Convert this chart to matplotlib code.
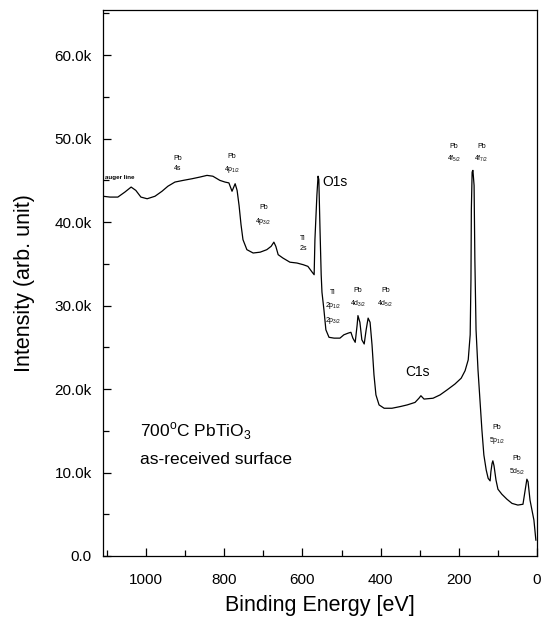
import numpy as np
import matplotlib
matplotlib.use("Agg")
import matplotlib.pyplot as plt
from matplotlib.ticker import MultipleLocator, FuncFormatter

plt.rcParams['font.family'] = ['Liberation Sans', 'DejaVu Sans']
plt.rcParams['mathtext.fontset'] = 'custom'
plt.rcParams['mathtext.rm'] = 'Liberation Sans'

# binding energy (eV) and intensity (counts)
energy = [1110, 1092, 1072, 1054, 1038, 1026, 1013, 997, 977, 959, 944, 926, 905, 882,
          862, 844, 829, 811, 798, 788, 780, 772, 767, 762, 757, 752, 742, 726, 708,
          691, 680, 673, 668, 662, 650, 632, 614, 598, 586, 575, 570, 568, 563, 560,
          558, 555, 552, 550, 545, 540, 532, 519, 504, 494, 483, 476, 471, 465, 460,
          458, 453, 448, 442, 437, 432, 427, 422, 417, 412, 404, 391, 371, 350, 332,
          312, 302, 297, 289, 266, 248, 230, 210, 194, 184, 176, 171, 169, 168, 166,
          164, 161, 159, 156, 151, 146, 141, 136, 130, 125, 120, 118, 115, 113, 110,
          105, 100, 90, 77, 64, 49, 36, 31, 26, 23, 18, 13, 8, 3]
intensity = [43.1, 43.0, 43.0, 43.6, 44.2, 43.8, 43.0, 42.8, 43.1, 43.7, 44.3, 44.8, 45.0, 45.2,
             45.4, 45.6, 45.5, 45.0, 44.8, 44.7, 43.7, 44.6, 43.8, 42.0, 39.7, 37.9, 36.7, 36.3, 36.4,
             36.7, 37.1, 37.6, 37.1, 36.1, 35.7, 35.2, 35.1, 34.9, 34.7, 34.0, 33.7, 37.9, 43.2, 45.5,
             45.1, 39.1, 33.7, 31.6, 29.5, 27.1, 26.2, 26.1, 26.1, 26.5, 26.7, 26.8, 26.1, 25.6, 27.7,
             28.8, 28.0, 25.9, 25.4, 27.1, 28.5, 28.0, 25.3, 21.7, 19.3, 18.1, 17.7, 17.7, 17.9, 18.1,
             18.4, 18.9, 19.2, 18.8, 18.9, 19.3, 19.9, 20.6, 21.3, 22.2, 23.5, 26.5, 33.1, 41.5, 46.0,
             46.2, 44.4, 35.5, 27.1, 22.3, 18.7, 15.1, 12.1, 10.3, 9.3, 9.0, 10.1, 11.1, 11.4, 10.8,
             9.1, 8.0, 7.4, 6.8, 6.3, 6.1, 6.2, 7.7, 9.2, 8.9, 6.7, 5.5, 4.3, 1.9]
intensity = np.array(intensity) * 1000

# peak labels: (text, energy, intensity)
peak_labels = [
    ("Pb\n4s", 918, 47.0e3),
    ("Pb\n4p$_{1/2}$", 780, 47.0e3),
    ("Pb\n4p$_{3/2}$", 700, 40.8e3),
    ("Ti\n2s", 598, 37.4e3),
    ("Ti\n2p$_{1/2}$\n2p$_{3/2}$", 522, 29.8e3),
    ("Pb\n4d$_{3/2}$", 458, 30.9e3),
    ("Pb\n4d$_{5/2}$", 388, 30.9e3),
    ("Pb\n4f$_{5/2}$", 212, 48.2e3),
    ("Pb\n4f$_{7/2}$", 142, 48.2e3),
    ("Pb\n5p$_{1/2}$", 102, 14.5e3),
    ("Pb\n5d$_{5/2}$", 52, 10.8e3),
]

fig = plt.figure(figsize=(5.46, 6.21), dpi=100)
ax = fig.add_axes([0.1886, 0.1047, 0.795, 0.879])

ax.plot(energy, intensity, color='black', linewidth=0.9)

ax.set_xlim(1110, 0)
ax.set_ylim(0, 65400)

ax.xaxis.set_major_locator(MultipleLocator(200))
ax.xaxis.set_minor_locator(MultipleLocator(100))
ax.yaxis.set_major_locator(MultipleLocator(10000))
ax.yaxis.set_minor_locator(MultipleLocator(5000))
ax.yaxis.set_major_formatter(FuncFormatter(lambda v, p: "0.0" if v == 0 else f"{v/1000:.1f}k"))
ax.tick_params(which='both', direction='in', top=False, right=False, labelsize=11)
ax.tick_params(which='major', length=6, width=0.9)
ax.tick_params(which='minor', length=4, width=0.9)
ax.tick_params(axis='x', which='major', pad=12)
ax.tick_params(axis='y', which='major', pad=8)
for s in ax.spines.values():
    s.set_linewidth(0.9)

ax.set_xlabel("Binding Energy [eV]", fontsize=15.5, labelpad=6)
ax.set_ylabel("Intensity (arb. unit)", fontsize=15.5, labelpad=14)

for txt, e, v in peak_labels:
    ax.text(e, v, txt, fontsize=5, ha='center', va='center', linespacing=1.6)

ax.text(1105, 45.3e3, "auger line", fontsize=4.5, fontweight='bold', ha='left', va='center')
ax.text(517, 44.8e3, "O1s", fontsize=10, ha='center', va='center')
ax.text(305, 22.0e3, "C1s", fontsize=10, ha='center', va='center')
ax.text(1015, 14.9e3, "700$^{\\rm o}$C PbTiO$_3$", fontsize=12.5, ha='left', va='center')
ax.text(1015, 11.5e3, "as-received surface", fontsize=12.5, ha='left', va='center')

fig.savefig("out.png", dpi=100)
